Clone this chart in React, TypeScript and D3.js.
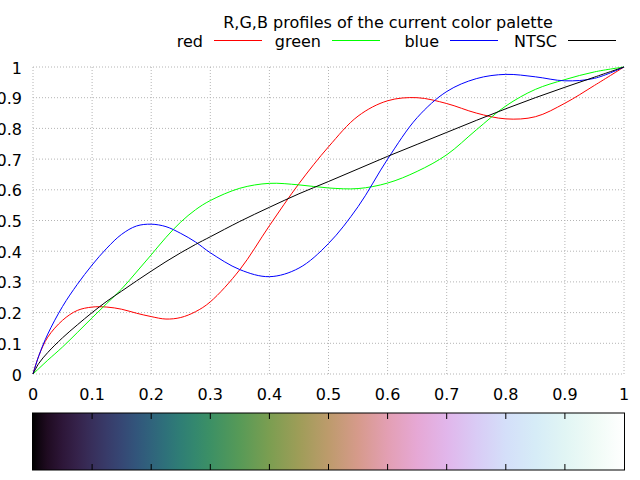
import React from "react";
import * as d3 from "d3";

const title = "R,G,B profiles of the current color palette";
const seriesNames = ["red", "green", "blue", "NTSC"];
const seriesColors = ["#ff0000", "#00ff00", "#0000ff", "#000000"];

const xs = [0, 0.01, 0.025, 0.05, 0.075, 0.1, 0.125, 0.15, 0.175, 0.2, 0.225, 0.25, 0.275, 0.3, 0.35, 0.4, 0.45, 0.5, 0.55, 0.6, 0.65, 0.7, 0.75, 0.8, 0.85, 0.9, 0.95, 1];
const redVals = [0, 0.06, 0.12, 0.175, 0.207, 0.218, 0.218, 0.211, 0.198, 0.187, 0.179, 0.184, 0.203, 0.235, 0.34, 0.483, 0.62, 0.74, 0.84, 0.89, 0.9, 0.881, 0.85, 0.831, 0.838, 0.882, 0.94, 1];
const greenVals = [0, 0.018, 0.045, 0.088, 0.135, 0.183, 0.23, 0.277, 0.332, 0.388, 0.445, 0.495, 0.535, 0.565, 0.605, 0.621, 0.616, 0.606, 0.604, 0.622, 0.66, 0.714, 0.795, 0.873, 0.927, 0.959, 0.984, 1];
const blueVals = [0, 0.06, 0.13, 0.22, 0.292, 0.355, 0.41, 0.455, 0.482, 0.488, 0.48, 0.458, 0.43, 0.395, 0.34, 0.317, 0.345, 0.425, 0.545, 0.7, 0.835, 0.92, 0.962, 0.976, 0.968, 0.955, 0.963, 1];
const ntscVals = [0, 0.035, 0.07, 0.118, 0.16, 0.2, 0.237, 0.27, 0.303, 0.335, 0.366, 0.395, 0.422, 0.447, 0.497, 0.543, 0.587, 0.627, 0.668, 0.709, 0.748, 0.787, 0.826, 0.864, 0.9, 0.934, 0.967, 1];

const tickValues = [0, 0.1, 0.2, 0.3, 0.4, 0.5, 0.6, 0.7, 0.8, 0.9, 1];

const W = 640;
const H = 480;
const FONT = "DejaVu Sans, sans-serif";
const FS = 16;

export default function App() {
  const x = d3.scaleLinear().domain([0, 1]).range([33, 624]);
  const y = d3.scaleLinear().domain([0, 1]).range([374, 67]);
  const allSeries = [redVals, greenVals, blueVals, ntscVals];
  const line = d3
    .line<number>()
    .x((_, i) => x(xs[i]))
    .y((d) => y(d))
    .curve(d3.curveCatmullRom.alpha(0.5));
  const fmt = (t: number) => String(+t.toFixed(1));
  const cbTop = 413;
  const cbBot = 470;
  const ch = (v: number) => Math.round(255 * Math.min(1, Math.max(0, v)));
  return (
    <svg width={W} height={H} style={{ position: "absolute", left: 0, top: 0, background: "#fff" }} fontFamily={FONT}>
      <defs>
        <linearGradient id="cb" x1="0" x2="1" y1="0" y2="0">
          {xs.map((t, i) => (
            <stop key={i} offset={t} stopColor={d3.rgb(ch(redVals[i]), ch(greenVals[i]), ch(blueVals[i])).formatHex()} />
          ))}
        </linearGradient>
      </defs>
      {tickValues.map((t) => (
        <line key={"gx" + t} x1={x(t)} x2={x(t)} y1={y(0)} y2={y(1)} stroke="#b4b4b4" strokeDasharray="1,2" />
      ))}
      {tickValues.map((t) => (
        <line key={"gy" + t} x1={x(0)} x2={x(1)} y1={y(t)} y2={y(t)} stroke="#b4b4b4" strokeDasharray="1,2" />
      ))}
      {tickValues.map((t) => (
        <text key={"ty" + t} x={22} y={y(t) + 6.5} textAnchor="end" fontSize={FS}>
          {fmt(t)}
        </text>
      ))}
      {tickValues.map((t) => (
        <text key={"tx" + t} x={x(t)} y={400} textAnchor="middle" fontSize={FS}>
          {fmt(t)}
        </text>
      ))}
      {allSeries.map((s, k) => (
        <path key={"s" + k} d={line(s) || ""} fill="none" stroke={seriesColors[k]} strokeWidth={1} />
      ))}
      <text x={388} y={27.5} textAnchor="middle" fontSize={FS}>
        {title}
      </text>
      {seriesNames.map((n, i) => {
        const xe = 203 + i * 118;
        return (
          <g key={"lg" + n}>
            <text x={xe} y={47} textAnchor="end" fontSize={FS}>
              {n}
            </text>
            <line x1={xe + 11} x2={xe + 59} y1={40.5} y2={40.5} stroke={seriesColors[i]} strokeWidth={1} />
          </g>
        );
      })}
      <rect x={x(0) - 0.5} y={cbTop} width={x(1) - x(0) + 1} height={cbBot - cbTop} fill="url(#cb)" stroke="#000" strokeWidth={1} />
      {tickValues.slice(1, -1).map((t) => (
        <g key={"cbt" + t}>
          <line x1={x(t)} x2={x(t)} y1={cbTop} y2={cbTop + 6} stroke="#000" />
          <line x1={x(t)} x2={x(t)} y1={cbBot} y2={cbBot - 6} stroke="#000" />
        </g>
      ))}
    </svg>
  );
}
